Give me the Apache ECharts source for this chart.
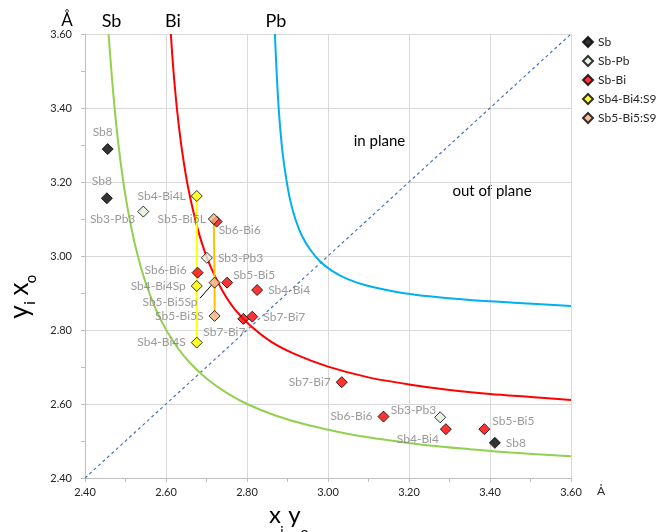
<!DOCTYPE html>
<html><head><meta charset="utf-8">
<script src="https://cdn.jsdelivr.net/npm/echarts@6/dist/echarts.min.js"></script>
<style>html,body{margin:0;padding:0;background:#fff}#c{width:659px;height:532px}</style>
</head><body><div id="c"></div><script>
// ---- axis ----
const axisMin = 2.4, axisMax = 3.6, axisStep = 0.2;

// ---- point data ----
const sbNames = ['Sb8', 'Sb8', 'Sb8'];
const sbX = [2.456, 2.454, 3.412];
const sbY = [3.289, 3.156, 2.495];

const sbPbNames = ['Sb3-Pb3', 'Sb3-Pb3', 'Sb3-Pb3'];
const sbPbX = [2.544, 2.701, 3.277];
const sbPbY = [3.120, 2.995, 2.564];

const sbBiNames = ['Sb6-Bi6', 'Sb5-Bi5', 'Sb4-Bi4', 'Sb7-Bi7', 'Sb7-Bi7', 'Sb6-Bi6', 'Sb7-Bi7', 'Sb6-Bi6', 'Sb4-Bi4', 'Sb5-Bi5'];
const sbBiX = [2.678, 2.751, 2.825, 2.791, 2.813, 2.725, 3.034, 3.137, 3.291, 3.386];
const sbBiY = [2.955, 2.928, 2.908, 2.830, 2.836, 3.093, 2.659, 2.566, 2.532, 2.532];

const s4Names = ['Sb4-Bi4L', 'Sb4-Bi4Sp', 'Sb4-Bi4S'];
const s4X = [2.676, 2.676, 2.676];
const s4Y = [3.162, 2.919, 2.766];

const s5Names = ['Sb5-Bi5L', 'Sb5-Bi5Sp', 'Sb5-Bi5S'];
const s5X = [2.718, 2.720, 2.720];
const s5Y = [3.100, 2.928, 2.838];

// ---- curves ----
const sbCurveX = [2.458, 2.462, 2.467, 2.473, 2.48, 2.49, 2.50, 2.515, 2.53, 2.55, 2.575, 2.60, 2.63, 2.66, 2.70, 2.75, 2.80, 2.87, 2.95, 3.05, 3.15, 3.25, 3.35, 3.45, 3.60];
const sbCurveY = [3.600, 3.546, 3.475, 3.401, 3.326, 3.236, 3.162, 3.073, 3.002, 2.927, 2.856, 2.801, 2.750, 2.710, 2.669, 2.630, 2.600, 2.569, 2.543, 2.519, 2.502, 2.488, 2.478, 2.469, 2.459];
const biCurveX = [2.612, 2.616, 2.621, 2.627, 2.634, 2.642, 2.652, 2.664, 2.678, 2.695, 2.715, 2.74, 2.77, 2.81, 2.86, 2.92, 3.00, 3.10, 3.20, 3.30, 3.40, 3.50, 3.60];
const biCurveY = [3.600, 3.535, 3.467, 3.398, 3.331, 3.267, 3.200, 3.137, 3.074, 3.014, 2.959, 2.905, 2.856, 2.810, 2.768, 2.734, 2.701, 2.672, 2.653, 2.638, 2.627, 2.619, 2.611];
const pbCurveX = [2.869, 2.871, 2.874, 2.878, 2.883, 2.889, 2.897, 2.907, 2.92, 2.935, 2.955, 2.98, 3.01, 3.05, 3.10, 3.17, 3.25, 3.35, 3.47, 3.60];
const pbCurveY = [3.600, 3.547, 3.479, 3.403, 3.333, 3.269, 3.208, 3.149, 3.098, 3.056, 3.019, 2.986, 2.960, 2.937, 2.919, 2.903, 2.891, 2.881, 2.873, 2.865];
const diagX = [2.4, 3.6];
const diagY = [2.4, 3.6];
const leaderX = [2.713, 2.684];
const leaderY = [2.922, 2.886];

// ---- label placement (style) ----
const sbLbl = [['top', [-5, 0]], ['top', [-5, 0]], ['right', [0, 0]]];
const sbPbLbl = [['left', [3, 8]], ['right', [0, 0]], ['left', [7, -7]]];
const sbBiLbl = [['left', [0, -3]], ['right', [-5, -8]], ['right', [0, 0]], ['bottom', [-19, -4]], ['right', [0, 0]],
                 ['right', [-9, 9]], ['left', [0, 0]], ['left', [0, 0]], ['left', [4, 10]], ['right', [-3, -8]]];
const s4Lbl = [['left', [0, 0]], ['left', [0, 0]], ['left', [0, 0]]];
const s5Lbl = [['left', [3, 0]], ['left', [-6, 19]], ['left', [0, 0]]];

const FONT = 'Lato, "Open Sans", sans-serif';
const zip = (xs, ys) => xs.map((x, i) => [x, ys[i]]);
function pts(xs, ys, names, lbl) {
  return xs.map((x, i) => ({
    value: [x, ys[i]], name: names[i],
    label: { position: lbl[i][0], offset: lbl[i][1] }
  }));
}
function scatter(name, color, xs, ys, names, lbl) {
  return {
    name, type: 'scatter', symbol: 'diamond', symbolSize: 11, z: 5,
    itemStyle: { color, borderColor: '#000', borderWidth: 1 },
    label: { show: true, formatter: '{b}', color: '#7F7F7F', fontFamily: FONT, fontSize: 12 },
    data: pts(xs, ys, names, lbl)
  };
}
function line(data, color, width, type, z, smooth) {
  return { type: 'line', data, symbol: 'none', smooth: smooth || false, silent: true, z,
    lineStyle: { color, width, type: type || 'solid' } };
}

const axisCommon = {
  type: 'value', min: axisMin, max: axisMax, interval: axisStep,
  axisLine: { show: true, onZero: false, lineStyle: { color: '#BFBFBF' } },
  axisTick: { show: true, length: 4, lineStyle: { color: '#BFBFBF' } },
  minorTick: { show: true, splitNumber: 2, length: 4, lineStyle: { color: '#BFBFBF' } },
  splitLine: { show: true, lineStyle: { color: '#D9D9D9' } },
};

const chart = echarts.init(document.getElementById('c'), null, { renderer: 'canvas' });
chart.setOption({
  animation: false,
  backgroundColor: '#fff',
  grid: { left: 85, top: 34, width: 486, height: 444, containLabel: false },
  xAxis: Object.assign({}, axisCommon, {
    axisLabel: { formatter: v => v.toFixed(2), fontFamily: FONT, fontSize: 11, color: '#262626', margin: 9 }
  }),
  yAxis: Object.assign({}, axisCommon, {
    axisLabel: { formatter: v => v.toFixed(2), fontFamily: FONT, fontSize: 11, color: '#262626', margin: 13 }
  }),
  legend: {
    orient: 'vertical', left: 582, top: 36, padding: 0, itemWidth: 10, itemHeight: 10, itemGap: 7,
    textStyle: { fontFamily: FONT, fontSize: 12, color: '#262626' },
    data: ['Sb', 'Sb-Pb', 'Sb-Bi', 'Sb4-Bi4:S9', 'Sb5-Bi5:S9']
  },
  series: [
    line(zip(diagX, diagY), '#4472C4', 1.2, [3, 3], 1),
    line(zip(sbCurveX, sbCurveY), '#92D050', 2, null, 2, 0.3),
    line(zip(biCurveX, biCurveY), '#FF0000', 2, null, 2, 0.3),
    line(zip(pbCurveX, pbCurveY), '#00B0F0', 2, null, 2, 0.3),
    line(zip(s4X, s4Y), '#FFFF00', 2, null, 3),
    line(zip(s5X, s5Y), '#FFC000', 2, null, 3),
    line(zip(leaderX, leaderY), '#000000', 1, null, 3),
    scatter('Sb', '#000000', sbX, sbY, sbNames, sbLbl),
    scatter('Sb-Pb', '#E2F0D9', sbPbX, sbPbY, sbPbNames, sbPbLbl),
    scatter('Sb-Bi', '#FF0000', sbBiX, sbBiY, sbBiNames, sbBiLbl),
    scatter('Sb4-Bi4:S9', '#FFFF00', s4X, s4Y, s4Names, s4Lbl),
    scatter('Sb5-Bi5:S9', '#F4B183', s5X, s5Y, s5Names, s5Lbl)
  ],
  graphic: [
    { type: 'text', x: 67, y: 21, style: { text: 'Å', font: '17px ' + FONT, fill: '#000', align: 'center', verticalAlign: 'middle' } },
    { type: 'text', x: 111.5, y: 21, style: { text: 'Sb', font: '18px ' + FONT, fill: '#000', align: 'center', verticalAlign: 'middle' } },
    { type: 'text', x: 173, y: 21, style: { text: 'Bi', font: '18px ' + FONT, fill: '#000', align: 'center', verticalAlign: 'middle' } },
    { type: 'text', x: 276, y: 21, style: { text: 'Pb', font: '18px ' + FONT, fill: '#000', align: 'center', verticalAlign: 'middle' } },
    { type: 'text', x: 601, y: 491, style: { text: 'Å', font: '12px ' + FONT, fill: '#262626', align: 'center', verticalAlign: 'middle' } },
    { type: 'text', x: 379.5, y: 141, style: { text: 'in plane', font: '15px ' + FONT, fill: '#000', align: 'center', verticalAlign: 'middle' } },
    { type: 'text', x: 492, y: 191, style: { text: 'out of plane', font: '15px ' + FONT, fill: '#000', align: 'center', verticalAlign: 'middle' } },
    { type: 'group', x: 0, y: 0, children: [
      { type: 'text', x: 275, y: 515, style: { text: 'x', font: '24px ' + FONT, fill: '#000', align: 'center', verticalAlign: 'middle' } },
      { type: 'text', x: 282, y: 531, style: { text: 'i', font: '14px ' + FONT, fill: '#000', align: 'center', verticalAlign: 'middle' } },
      { type: 'text', x: 294.5, y: 515, style: { text: 'y', font: '24px ' + FONT, fill: '#000', align: 'center', verticalAlign: 'middle' } },
      { type: 'text', x: 304.5, y: 532, style: { text: 'o', font: '14px ' + FONT, fill: '#000', align: 'center', verticalAlign: 'middle' } }
    ]},
    { type: 'group', x: 20, y: 298, rotation: Math.PI / 2, children: [
      { type: 'text', x: -14, y: 0, style: { text: 'y', font: '26px ' + FONT, fill: '#000', align: 'center', verticalAlign: 'middle' } },
      { type: 'text', x: -5, y: 10, style: { text: 'i', font: '15px ' + FONT, fill: '#000', align: 'center', verticalAlign: 'middle' } },
      { type: 'text', x: 9, y: 0, style: { text: 'x', font: '26px ' + FONT, fill: '#000', align: 'center', verticalAlign: 'middle' } },
      { type: 'text', x: 19, y: 11, style: { text: 'o', font: '15px ' + FONT, fill: '#000', align: 'center', verticalAlign: 'middle' } }
    ]}
  ]
});
</script></body></html>
